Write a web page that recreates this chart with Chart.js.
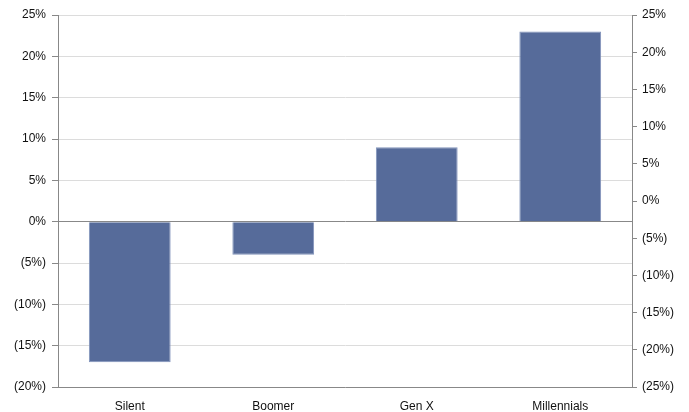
<!DOCTYPE html>
<html>
<head>
<meta charset="utf-8">
<script src="https://cdn.jsdelivr.net/npm/chart.js@4.4.0/dist/chart.umd.min.js"></script>
<style>
  html, body { margin: 0; padding: 0; background: #fff; }
  #grafico { display: block; }
</style>
</head>
<body>
<canvas id="grafico" width="689" height="412"></canvas>
<script>
// Geracoes e variacao (%)
const geracoes = ['Silent', 'Boomer', 'Gen X', 'Millennials'];
const variacao = [-17, -4, 9, 23];

// Limites dos eixos (%)
const eixoEsq = { min: -20, max: 25, passo: 5 };
const eixoDir = { min: -25, max: 25, passo: 5 };

// Negativos entre parenteses, como em planilha
function formatarPct(v) {
  return v < 0 ? '(' + Math.abs(v) + '%)' : v + '%';
}

const fonte = { family: 'Arial, "Liberation Sans", sans-serif', size: 12 };

new Chart(document.getElementById('grafico').getContext('2d'), {
  type: 'bar',
  data: {
    labels: geracoes,
    datasets: [{
      data: variacao,
      backgroundColor: '#566b9a',
      borderColor: '#8193bb',
      borderWidth: 1,
      barPercentage: 0.57,
      categoryPercentage: 1,
      yAxisID: 'y'
    }]
  },
  options: {
    responsive: false,
    animation: false,
    layout: { padding: { top: 15, left: 0, right: 0, bottom: 0 } },
    plugins: { legend: { display: false }, tooltip: { enabled: false } },
    scales: {
      x: {
        grid: { display: false },
        border: { display: true, color: '#888', width: 1 },
        ticks: { color: '#111', font: fonte, padding: 4 },
        afterFit: s => { s.height = 25; }
      },
      y: {
        position: 'left',
        min: eixoEsq.min,
        max: eixoEsq.max,
        grid: {
          color: ctx => (ctx.tick && ctx.tick.value === 0 ? '#888' : '#dcdcdc'),
          lineWidth: 1,
          tickLength: 6,
          tickColor: '#888'
        },
        border: { display: true, color: '#888', width: 1 },
        ticks: { stepSize: eixoEsq.passo, color: '#111', font: fonte, padding: 6, callback: formatarPct },
        afterFit: s => { s.width = 58; }
      },
      y2: {
        position: 'right',
        min: eixoDir.min,
        max: eixoDir.max,
        grid: { drawOnChartArea: false, tickLength: 5, color: '#888' },
        border: { display: true, color: '#888', width: 1 },
        ticks: { stepSize: eixoDir.passo, color: '#111', font: fonte, padding: 5, callback: formatarPct },
        afterFit: s => { s.width = 57; }
      }
    }
  }
});
</script>
</body>
</html>
